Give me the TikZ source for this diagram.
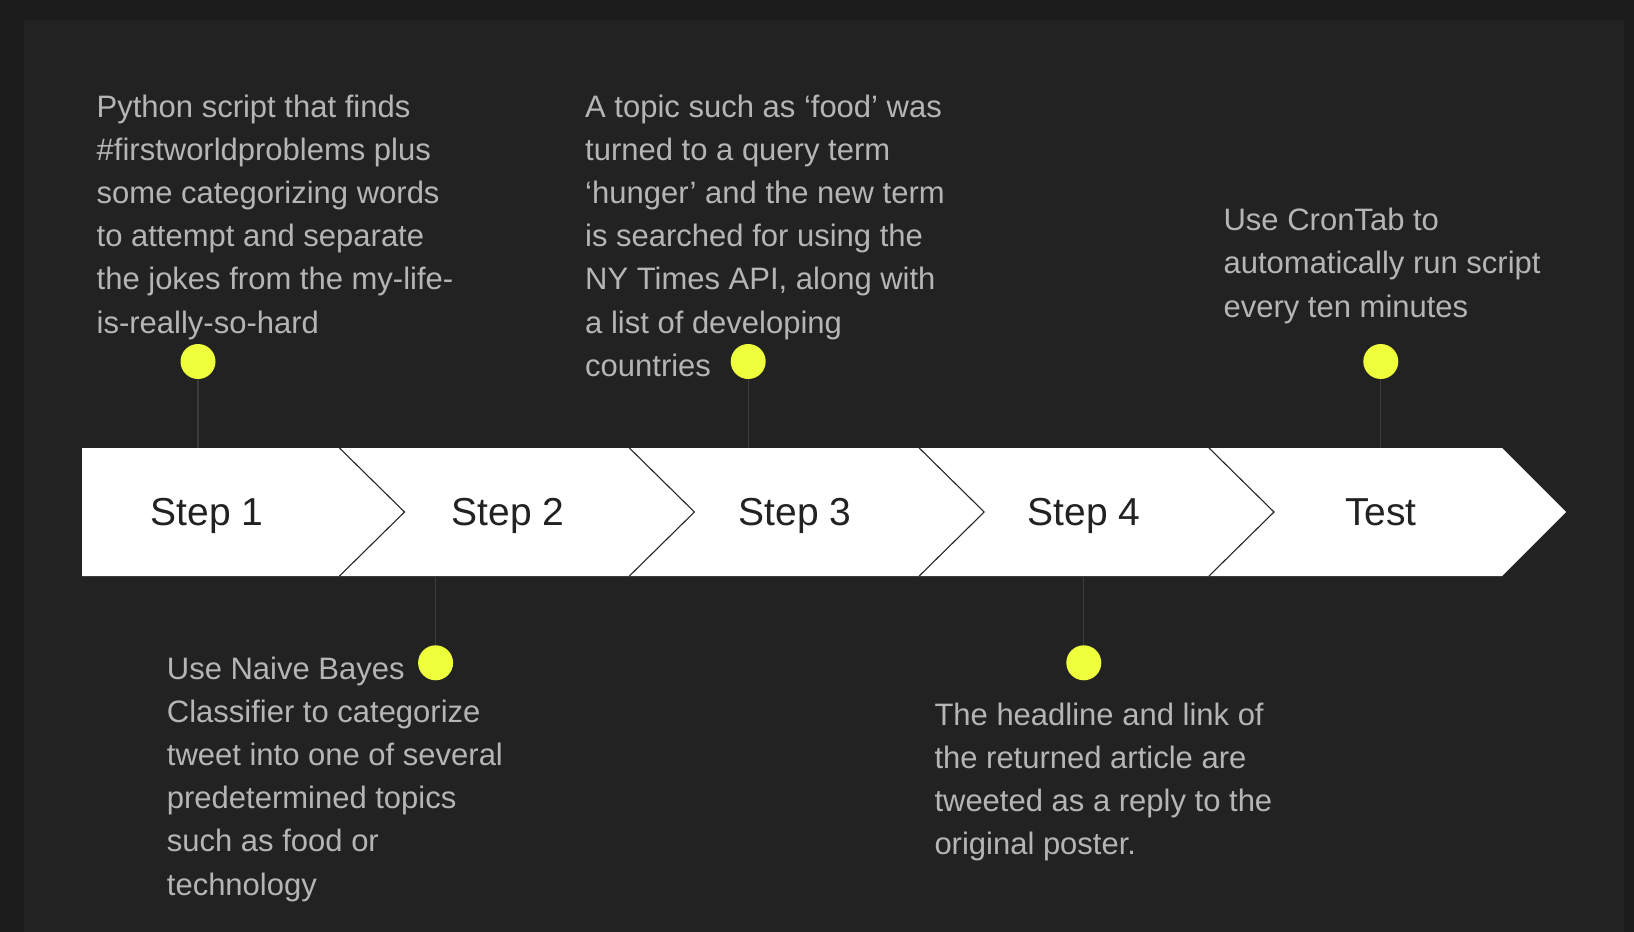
\documentclass[tikz,border=0pt]{standalone}
\usepackage{fontspec}
\setmainfont{Liberation Sans}
\definecolor{outerbg}{HTML}{1B1B1B}
\definecolor{panelbg}{HTML}{222222}
\definecolor{desctext}{HTML}{B5B5B5}
\definecolor{dotc}{HTML}{EEFF3C}
\definecolor{stemc}{HTML}{3C3C3C}
\definecolor{steptext}{HTML}{222222}
\newcommand\mydescfont{\fontsize{31}{43.2}\selectfont}
\begin{document}
\begin{tikzpicture}[x=1pt,y=-1pt,
  descbox/.style={anchor=base west, inner sep=0pt, text=desctext},
  dotnode/.style={circle, fill=dotc, minimum size=35pt, inner sep=0pt},
  stemline/.style={draw=stemc, line width=1.2pt},
  steplabel/.style={text=steptext, font=\fontsize{39}{44}\selectfont, inner sep=0pt, anchor=base},
  sepline/.style={draw=black!85, line width=1.1pt}]
\useasboundingbox (0,0) rectangle (1634,932);
\fill[outerbg] (0,0) rectangle (1634,932);
\fill[panelbg] (24,20) rectangle (1624,932);
% chevron bar
\fill[white] (82,448) -- (1502,448) -- (1566,512) -- (1502,576) -- (82,576) -- cycle;
\foreach \b in {339.5,629.4,919.2,1209} \draw[sepline] (\b,448) -- (\b+65,512) -- (\b,576);
% step labels
\node[steplabel] (s1) at (207,525) {Step 1};
\node[steplabel] (s2) at (508,525) {Step 2};
\node[steplabel] (s3) at (795,525) {Step 3};
\node[steplabel] (s4) at (1084,525) {Step 4};
\node[steplabel] (s5) at (1381,525) {Test};
% dots and stems
\node[dotnode] (d1) at (198,361.5) {};
\node[dotnode] (d2) at (435.6,662.8) {};
\node[dotnode] (d3) at (748.2,361.5) {};
\node[dotnode] (d4) at (1083.8,662.8) {};
\node[dotnode] (d5) at (1380.8,361.5) {};
\coordinate (e1) at (198,448);
\coordinate (e2) at (435.6,576);
\coordinate (e3) at (748.2,448);
\coordinate (e4) at (1083.8,576);
\coordinate (e5) at (1380.8,448);
\draw[stemline] (d1.south) -- (e1);
\draw[stemline] (e2) -- (d2.north);
\draw[stemline] (d3.south) -- (e3);
\draw[stemline] (e4) -- (d4.north);
\draw[stemline] (d5.south) -- (e5);
% descriptions
\node[descbox] (p1) at (96.5,117) {\parbox[t]{450pt}{\mydescfont Python script that finds\\ \#firstworldproblems plus\\ some categorizing words\\ to attempt and separate\\ the jokes from the my-life-\\ is-really-so-hard}};
\node[descbox] (p2) at (585,117) {\parbox[t]{450pt}{\mydescfont A topic such as ‘food’ was\\ turned to a query term\\ ‘hunger’ and the new term\\ is searched for using the\\ NY Times API, along with\\ a list of developing\\ countries}};
\node[descbox] (p3) at (1223.4,230.6) {\parbox[t]{400pt}{\mydescfont Use CronTab to\\ automatically run script\\ every ten minutes}};
\node[descbox] (p4) at (166.7,679) {\parbox[t]{450pt}{\mydescfont Use Naive Bayes\\ Classifier to categorize\\ tweet into one of several\\ predetermined topics\\ such as food or\\ technology}};
\node[descbox] (p5) at (934.3,725) {\parbox[t]{450pt}{\mydescfont The headline and link of\\ the returned article are\\ tweeted as a reply to the\\ original poster.}};
\end{tikzpicture}
\end{document}
